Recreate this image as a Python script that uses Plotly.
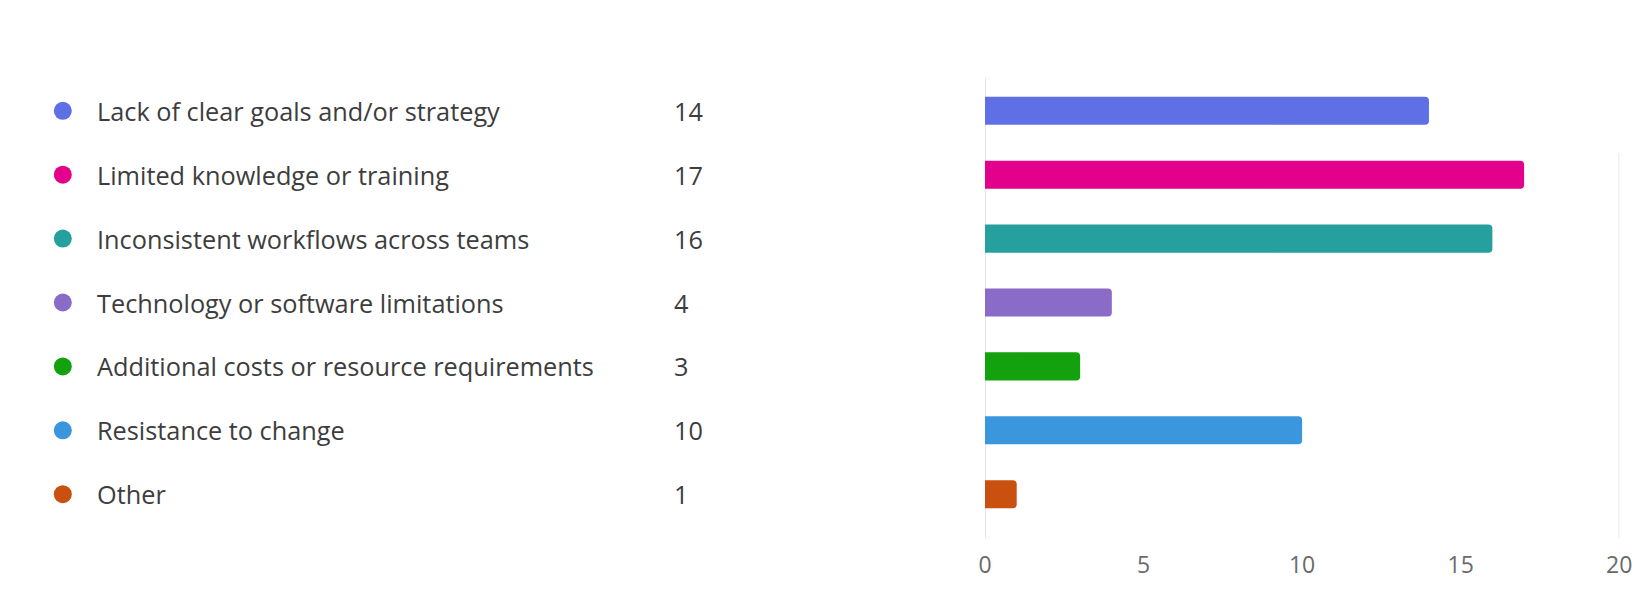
import plotly.graph_objects as go

categories = [
    "Lack of clear goals and/or strategy",
    "Limited knowledge or training",
    "Inconsistent workflows across teams",
    "Technology or software limitations",
    "Additional costs or resource requirements",
    "Resistance to change",
    "Other",
]
counts = [14, 17, 16, 4, 3, 10, 1]
colors = ["#5f70e6", "#e3008c", "#26a09e", "#8a6bc8", "#13a10e", "#3a96dd", "#ca5010"]
x_ticks = [0, 5, 10, 15, 20]

W, H = 1651, 600
FONT = "Open Sans, Noto Sans, sans-serif"

bar_dom = [990 / W, 1632 / W]
leg_dom = [0, 0.58]
leg_px = leg_dom[1] * W
y_dom = [1 - 528 / H, 1 - 77 / H]

fig = go.Figure()

fig.add_trace(go.Bar(
    y=categories, x=counts, orientation="h",
    marker=dict(color=colors, cornerradius=4, line=dict(width=0)),
    width=0.44, xaxis="x", yaxis="y", hoverinfo="x+y", showlegend=False,
))

# legend-like list on the left
fig.add_trace(go.Scatter(
    y=categories, x=[56.5] * len(categories), mode="markers",
    marker=dict(color=colors, size=18, line=dict(width=0)),
    xaxis="x2", yaxis="y", showlegend=False, hoverinfo="skip",
))

annotations = []
for c, n in zip(categories, counts):
    annotations.append(dict(x=89, y=c, xref="x2", yref="y", text=c, showarrow=False,
                            xanchor="left", yanchor="middle",
                            font=dict(family=FONT, size=25.3, color="#3d3d3d")))
    annotations.append(dict(x=673, y=c, xref="x2", yref="y", text=str(n), showarrow=False,
                            xanchor="left", yanchor="middle",
                            font=dict(family=FONT, size=25.3, color="#3d3d3d")))

shapes = [
    dict(type="line", xref="x", yref="paper", x0=0, x1=0, y0=1 - 538 / H, y1=1 - 78 / H,
         line=dict(color="#dcdcdc", width=1.5), layer="below"),
    dict(type="line", xref="x", yref="paper", x0=20, x1=20, y0=1 - 538 / H, y1=1 - 153 / H,
         line=dict(color="#e2e2e2", width=1.5), layer="below"),
]

fig.update_layout(
    width=W, height=H,
    margin=dict(l=0, r=0, t=0, b=0),
    paper_bgcolor="white", plot_bgcolor="white",
    font=dict(family=FONT, color="#555555"),
    xaxis=dict(domain=bar_dom, range=[0, 20], tickvals=x_ticks, showgrid=False,
               zeroline=False, showline=False, ticks="", ticklabelstandoff=21,
               tickfont=dict(family=FONT, size=23, color="#6a6a6a"), fixedrange=True),
    xaxis2=dict(domain=leg_dom, range=[0, leg_px], visible=False, anchor="y", fixedrange=True),
    yaxis=dict(domain=y_dom, categoryorder="array", categoryarray=categories,
               autorange="reversed", showticklabels=False, showgrid=False,
               zeroline=False, showline=False, ticks="", fixedrange=True),
    annotations=annotations,
    shapes=shapes,
)

fig.write_html("out.html")
